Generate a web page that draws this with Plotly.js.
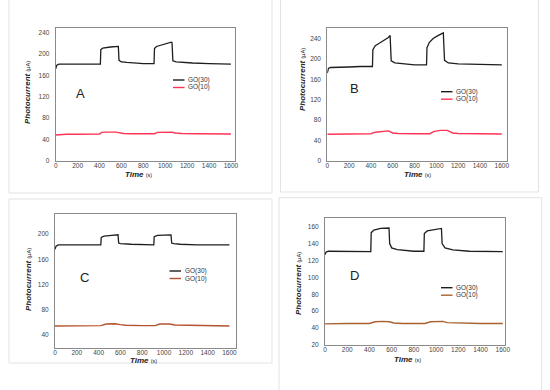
<!DOCTYPE html>
<html>
<head>
<meta charset="utf-8">
<script src="https://cdn.plot.ly/plotly-3.0.1.min.js"></script>
<style>html,body{margin:0;padding:0;background:#fff;}#chart{width:550px;height:390px;}</style>
</head>
<body>
<div id="chart"></div>
<script>
// ---------- data ----------
const seriesNames = ['GO(30)', 'GO(10)'];
const panelLabels = ['A', 'B', 'C', 'D'];
const xTicks = [0, 200, 400, 600, 800, 1000, 1200, 1400, 1600];
const yTicksA = [0, 40, 80, 120, 160, 200, 240];
const yTicksB = [0, 40, 80, 120, 160, 200, 240];
const yTicksC = [40, 80, 120, 160, 200];
const yTicksD = [20, 40, 60, 80, 100, 120, 140, 160];

// Panel A
const timeA30 = [0, 10, 30, 100, 200, 300, 408, 412, 430, 500, 565, 572, 578, 600, 650, 700, 800, 898, 902, 920, 980, 1055, 1062, 1070, 1100, 1150, 1250, 1400, 1600];
const go30A   = [172, 179, 181, 181, 181, 181, 181, 208, 211, 213, 215, 214, 188, 185, 184, 183, 182, 182, 210, 214, 218, 222, 221, 187, 185, 184, 183, 182, 181];
const timeA10 = [0, 50, 100, 200, 300, 400, 420, 450, 550, 580, 620, 700, 800, 900, 930, 1000, 1060, 1090, 1150, 1300, 1450, 1600];
const go10A   = [48, 49, 49.5, 49.5, 49.5, 50, 53, 53.5, 53.5, 52, 51, 50.5, 50.5, 50.5, 53, 53.5, 53.5, 52, 51, 50.5, 50, 50];

// Panel B
const timeB30 = [0, 10, 30, 100, 200, 300, 414, 418, 440, 480, 520, 560, 576, 580, 586, 620, 700, 800, 910, 914, 935, 970, 1010, 1050, 1064, 1068, 1075, 1110, 1200, 1400, 1600];
const go30B   = [172, 181, 183, 184, 184, 185, 185, 218, 226, 231, 236, 242, 246, 230, 196, 192, 190, 188, 188, 222, 232, 240, 245, 249, 251, 230, 197, 192, 190, 189, 188];
const timeB10 = [0, 100, 200, 300, 400, 440, 500, 560, 600, 650, 800, 940, 980, 1040, 1100, 1150, 1200, 1400, 1600];
const go10B   = [52, 52.5, 52.5, 52.5, 53, 56, 57.5, 58.5, 54.5, 53.5, 53, 53, 57.5, 59.5, 59.5, 54.5, 53.5, 53, 52.5];

// Panel C
const timeC30 = [0, 10, 30, 100, 300, 420, 424, 450, 520, 578, 584, 600, 700, 906, 910, 940, 1000, 1064, 1070, 1090, 1150, 1300, 1600];
const go30C   = [176, 181, 183, 183, 183, 183, 195, 197, 198, 199, 186, 185, 184, 183, 196, 198, 198.5, 199, 186, 185, 184, 183, 183];
const timeC10 = [0, 100, 200, 300, 420, 470, 550, 600, 650, 800, 920, 960, 1050, 1100, 1200, 1400, 1600];
const go10C   = [54.5, 54.5, 54.5, 54.5, 55, 57.5, 58, 56.5, 55.5, 55, 55, 57.5, 57.5, 56, 55.5, 55, 54.5];

// Panel D
const timeD30 = [0, 10, 30, 100, 300, 412, 416, 440, 500, 576, 582, 600, 650, 800, 890, 894, 920, 1000, 1048, 1054, 1080, 1150, 1300, 1600];
const go30D   = [127, 130, 131, 131, 130.5, 130.5, 153, 156, 158, 158.5, 140, 135, 133, 131, 131, 152, 155, 157, 158, 140, 135, 132.5, 131, 130.5];
const timeD10 = [0, 100, 200, 300, 400, 450, 520, 580, 620, 700, 900, 950, 1000, 1060, 1100, 1200, 1400, 1600];
const go10D   = [45, 45.5, 45.5, 45.5, 45.5, 47.5, 48, 47.5, 46, 45.5, 45.5, 47.5, 48, 48, 46.5, 46, 45.5, 45.5];

// ---------- layout helpers ----------
const W = 550, H = 390;
const px = x => x / W;
const py = y => 1 - y / H;
const FONT = 'Liberation Sans, Arial, sans-serif';

const panels = [
  {plot: [55.7, 28.3, 235.3, 160.7], xr: [0, 1640], yr: [0, 248], yt: yTicksA, t30: timeA30, v30: go30A, t10: timeA10, v10: go10A,
   c10: '#ff3355', label: [80, 93], leg: [173, 80], ytitle: [27, 93], xtitle: [138, 174], frame: [9, -2, 272, 193]},
  {plot: [327.3, 28.3, 506.7, 160.7], xr: [0, 1645], yr: [0, 260], yt: yTicksB, t30: timeB30, v30: go30B, t10: timeB10, v10: go10B,
   c10: '#ff3355', label: [354, 89], leg: [441, 91.7], ytitle: [303, 80], xtitle: [417, 174], frame: [280.5, -2, 538.5, 192]},
  {plot: [55, 214, 236, 347.7], xr: [0, 1660], yr: [20, 232], yt: yTicksC, t30: timeC30, v30: go30C, t10: timeC10, v10: go10C,
   c10: '#b4532f', label: [84, 277], leg: [169.5, 271], ytitle: [28, 280], xtitle: [143, 360], frame: [9, 199, 272, 363]},
  {plot: [325, 218.3, 505, 345], xr: [0, 1620], yr: [20, 170], yt: yTicksD, t30: timeD30, v30: go30D, t10: timeD10, v10: go10D,
   c10: '#a8612f', label: [354, 275], leg: [441, 287.7], ytitle: [298, 284], xtitle: [407, 359], frame: [279, 197.7, 541.7, 395]}
];

const data = [];
const layout = {
  width: W, height: H,
  margin: {l: 0, r: 0, t: 0, b: 0},
  paper_bgcolor: '#ffffff', plot_bgcolor: '#ffffff',
  showlegend: false,
  font: {family: FONT, color: '#222'},
  annotations: [], shapes: []
};

panels.forEach((p, i) => {
  const n = i === 0 ? '' : String(i + 1);
  const xa = 'x' + n, ya = 'y' + n;
  layout['xaxis' + n] = {
    domain: [px(p.plot[0]), px(p.plot[2])], anchor: ya, range: p.xr,
    showline: true, mirror: true, linecolor: '#8a8a8a', linewidth: 1,
    showgrid: false, zeroline: false, ticks: '', tickvals: xTicks,
    tickfont: {size: 6.5, color: '#444', family: FONT}, ticklabelstandoff: -2
  };
  layout['yaxis' + n] = {
    domain: [py(p.plot[3]), py(p.plot[1])], anchor: xa, range: p.yr,
    showline: true, mirror: true, linecolor: '#8a8a8a', linewidth: 1,
    showgrid: false, zeroline: false, ticks: '', tickvals: p.yt,
    tickfont: {size: 6.5, color: '#444', family: FONT}, ticklabelstandoff: 4
  };
  data.push({x: p.t30, y: p.v30, xaxis: xa, yaxis: ya, type: 'scatter', mode: 'lines', name: seriesNames[0],
             line: {color: '#1e1e1e', width: 1.3}});
  data.push({x: p.t10, y: p.v10, xaxis: xa, yaxis: ya, type: 'scatter', mode: 'lines', name: seriesNames[1],
             line: {color: p.c10, width: 1.4}});

  layout.shapes.push({type: 'rect', xref: 'paper', yref: 'paper', x0: px(p.frame[0]), x1: px(p.frame[2]),
    y0: py(p.frame[3]), y1: py(p.frame[1]), line: {color: '#e2e2e2', width: 1}, layer: 'below'});

  layout.annotations.push({xref: 'paper', yref: 'paper', x: px(p.label[0]), y: py(p.label[1]), text: panelLabels[i],
    showarrow: false, xanchor: 'center', yanchor: 'middle', font: {size: 13, color: '#222', family: FONT}});

  layout.annotations.push({xref: 'paper', yref: 'paper', x: px(p.ytitle[0]), y: py(p.ytitle[1]), textangle: -90,
    text: '<b><i>Photocurrent</i></b> <span style="font-size:5.5px">(μA)</span>', showarrow: false,
    xanchor: 'center', yanchor: 'middle', font: {size: 8, color: '#222', family: FONT}});
  layout.annotations.push({xref: 'paper', yref: 'paper', x: px(p.xtitle[0]), y: py(p.xtitle[1]),
    text: '<b><i>Time</i></b> <span style="font-size:5.5px">(s)</span>', showarrow: false,
    xanchor: 'center', yanchor: 'middle', font: {size: 8, color: '#222', family: FONT}});

  [['#1e1e1e', seriesNames[0]], [p.c10, seriesNames[1]]].forEach((e, k) => {
    const yy = p.leg[1] + k * 7.5;
    layout.shapes.push({type: 'line', xref: 'paper', yref: 'paper', x0: px(p.leg[0]), x1: px(p.leg[0] + 11.5),
      y0: py(yy), y1: py(yy), line: {color: e[0], width: 1.4}});
    layout.annotations.push({xref: 'paper', yref: 'paper', x: px(p.leg[0] + 13), y: py(yy), text: e[1],
      showarrow: false, xanchor: 'left', yanchor: 'middle', font: {size: 6.5, color: '#333', family: FONT}});
  });
});

Plotly.newPlot('chart', data, layout, {staticPlot: true, displayModeBar: false});
</script>
</body>
</html>
